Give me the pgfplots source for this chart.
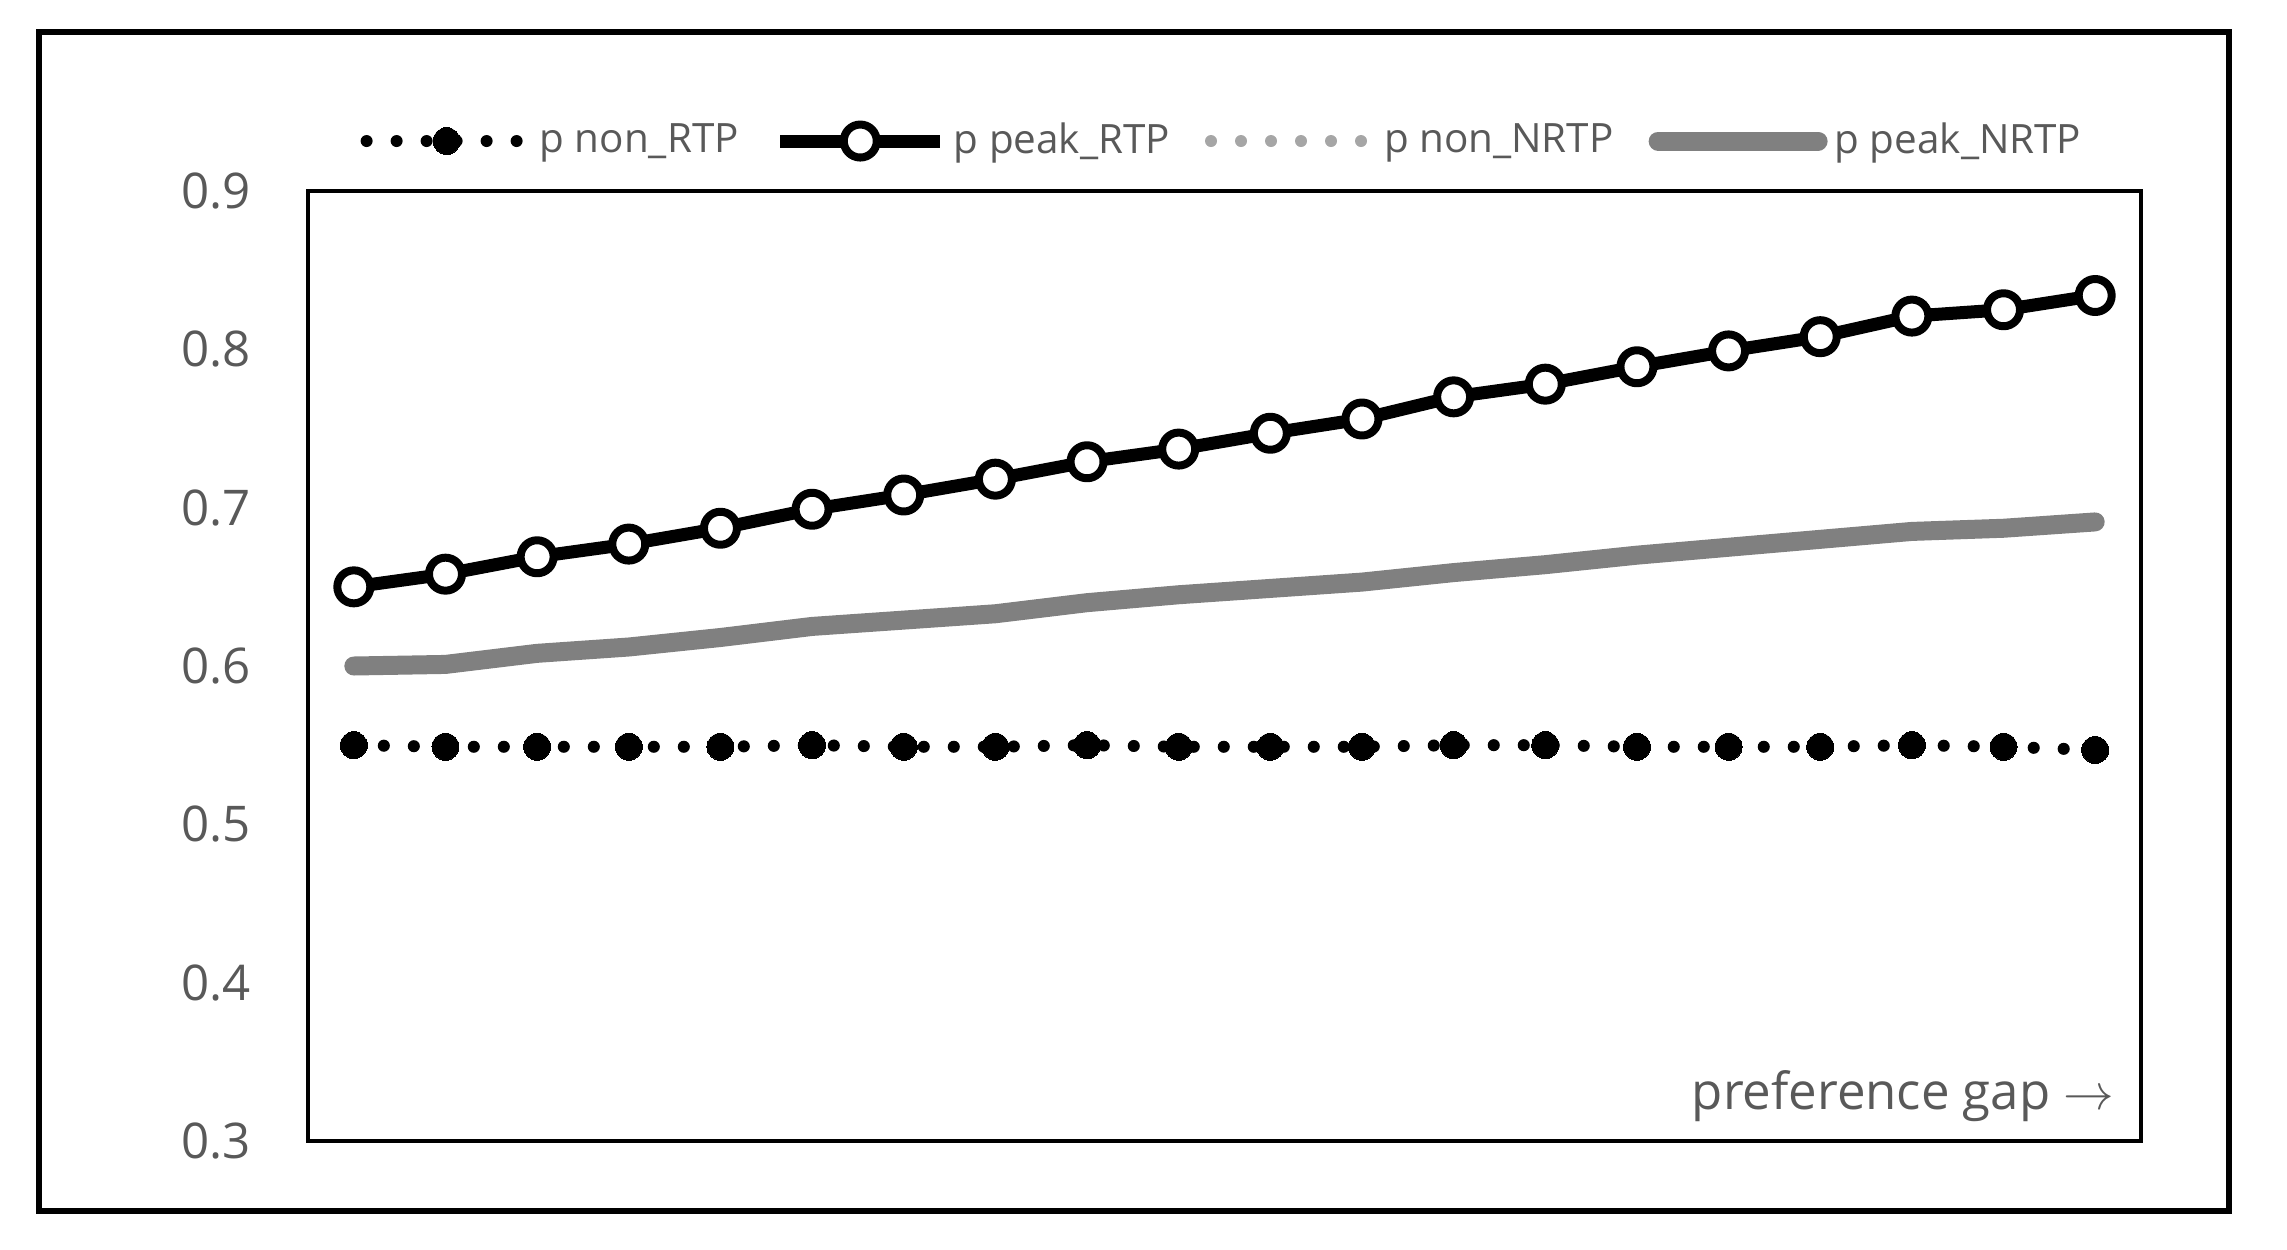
\documentclass[border=0pt]{standalone}
\usepackage{pgfplots}
\pgfplotsset{compat=1.18}
\usepackage{fontspec}
\setmainfont{Open Sans}
\definecolor{txtgray}{HTML}{595959}
\definecolor{lightdot}{HTML}{A6A6A6}
\definecolor{midgray}{HTML}{808080}

\pgfplotsset{
  longlegend/.style={legend image code/.code={
    \draw[mark repeat=2,mark phase=2,##1] plot coordinates {(0mm,0mm) (8mm,0mm) (16mm,0mm)};}},
}

\begin{document}
\begin{tikzpicture}
\begin{axis}[
  set layers,
  scale only axis,
  width=183.3mm, height=95mm,
  xmin=0.5, xmax=20.5, ymin=0.3, ymax=0.9,
  xtick=\empty,
  ytick={0.3,0.4,0.5,0.6,0.7,0.8,0.9},
  major tick length=0pt,
  axis line style={line width=0.35mm},
  /pgf/number format/assume math mode=true,
  yticklabel style={font=\fontsize{14}{16}\selectfont, text=txtgray, xshift=-4.5mm,
    /pgf/number format/fixed, /pgf/number format/fixed zerofill, /pgf/number format/precision=1},
  legend style={at={(0.5,1.0526)}, anchor=center, draw=none, fill=none,
    legend columns=4, font=\fontsize{11.5}{14}\selectfont, text=txtgray,
    /tikz/every even column/.append style={column sep=2.8mm}},
  legend cell align=left,
]

% p non_RTP
\addplot[longlegend, black, line width=1.2mm, line cap=round, dash pattern=on 0pt off 3mm,
  mark=*, mark size=1.35mm, mark options={solid, fill=black, line width=0pt}] coordinates {
  (1,0.550) (2,0.549) (3,0.549) (4,0.549) (5,0.549)
  (6,0.550) (7,0.549) (8,0.549) (9,0.550) (10,0.549)
  (11,0.549) (12,0.549) (13,0.550) (14,0.550) (15,0.549)
  (16,0.549) (17,0.549) (18,0.550) (19,0.549) (20,0.547)
};
\addlegendentry{p non\_RTP}

% p peak_RTP
\addplot[longlegend, black, line width=1.3mm, line join=round,
  mark=*, mark size=1.65mm, mark options={fill=white, draw=black, line width=0.8mm}] coordinates {
  (1,0.650) (2,0.658) (3,0.669) (4,0.677) (5,0.687)
  (6,0.699) (7,0.708) (8,0.718) (9,0.729) (10,0.737)
  (11,0.747) (12,0.756) (13,0.770) (14,0.778) (15,0.789)
  (16,0.799) (17,0.808) (18,0.821) (19,0.825) (20,0.834)
};
\addlegendentry{p peak\_RTP}

% p non_NRTP (hidden under p non_RTP)
\addplot[longlegend, lightdot, line width=1.2mm, line cap=round, dash pattern=on 0pt off 3mm,
  no markers, on layer=axis background] coordinates {
  (1,0.550) (2,0.549) (3,0.549) (4,0.549) (5,0.549)
  (6,0.550) (7,0.549) (8,0.549) (9,0.550) (10,0.549)
  (11,0.549) (12,0.549) (13,0.550) (14,0.550) (15,0.549)
  (16,0.549) (17,0.549) (18,0.550) (19,0.549) (20,0.547)
};
\addlegendentry{p non\_NRTP}

% p peak_NRTP
\addplot[longlegend, midgray, line width=1.9mm, line cap=round, line join=round, no markers] coordinates {
  (1,0.600) (2,0.601) (3,0.608) (4,0.612) (5,0.618)
  (6,0.625) (7,0.629) (8,0.633) (9,0.640) (10,0.645)
  (11,0.649) (12,0.653) (13,0.659) (14,0.664) (15,0.670)
  (16,0.675) (17,0.680) (18,0.685) (19,0.687) (20,0.691)
};
\addlegendentry{p peak\_NRTP}

\node[anchor=base east, inner sep=0pt, font=\fontsize{14.5}{18}\selectfont, text=txtgray,
  xshift=-2.6mm, yshift=3.2mm] at (rel axis cs:1,0) {preference gap $\rightarrow$};
\end{axis}
\draw[line width=0.55mm] ([shift={(-26.9mm,-7mm)}]current axis.south west) rectangle ([shift={(8.8mm,15.9mm)}]current axis.north east);
\path ([shift={(-30.8mm,-10.8mm)}]current axis.south west) rectangle ([shift={(14.6mm,19.1mm)}]current axis.north east);
\end{tikzpicture}
\end{document}
